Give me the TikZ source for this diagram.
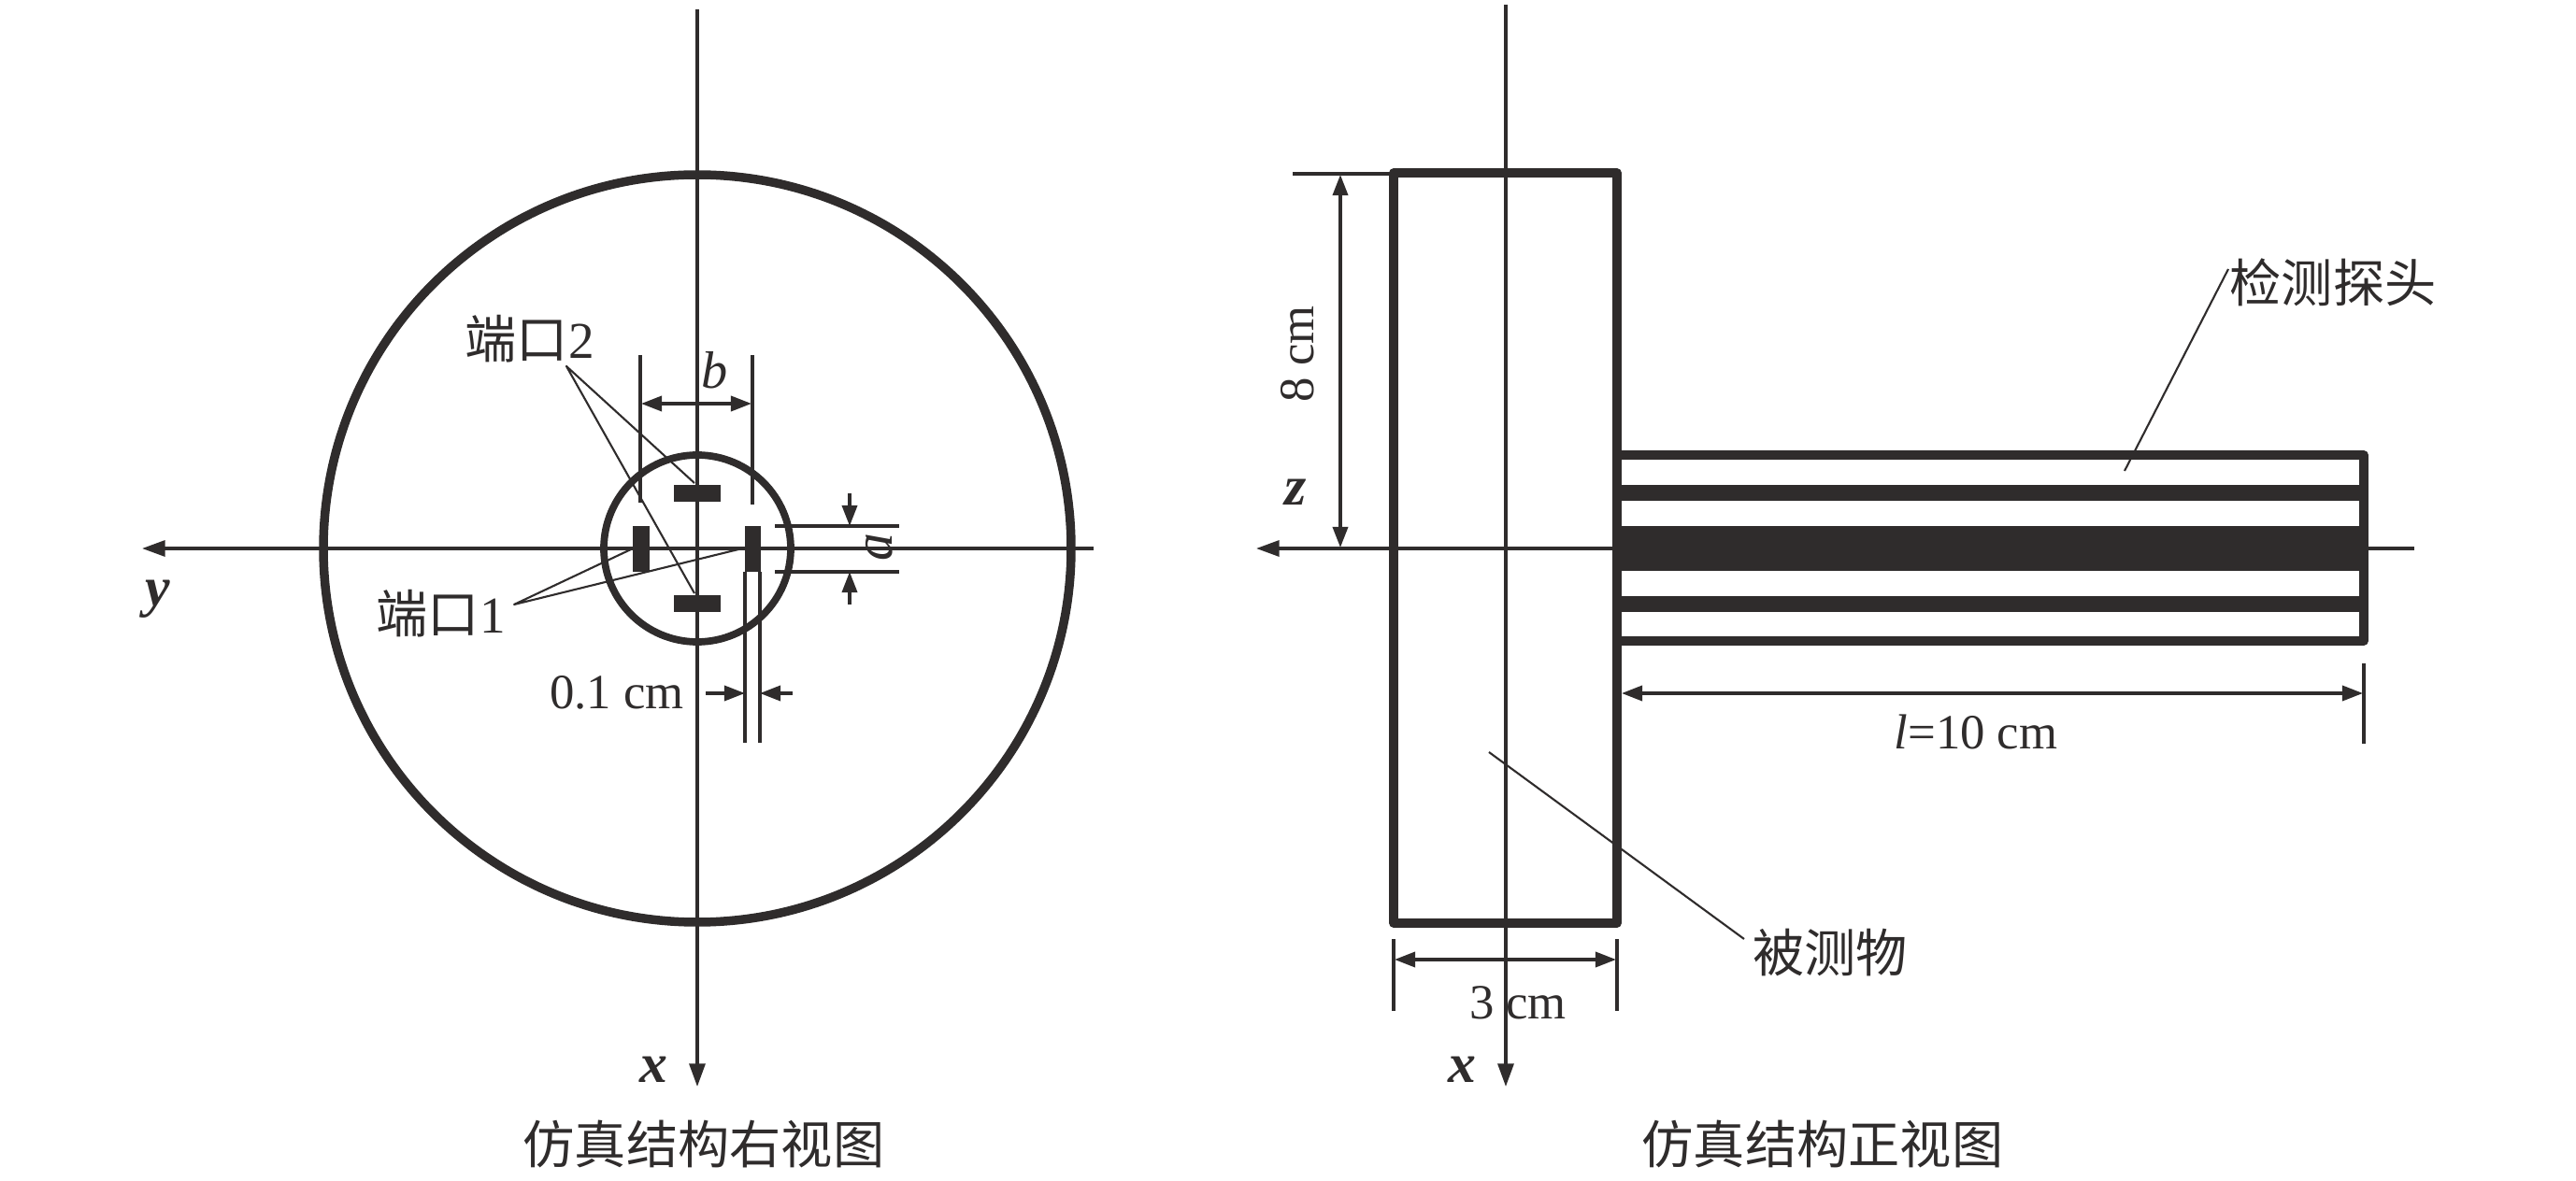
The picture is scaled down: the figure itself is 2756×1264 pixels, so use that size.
\documentclass[tikz,border=0pt]{standalone}
\usepackage{fontspec}
\setmainfont{Liberation Serif}
\newfontfamily\cjk{Noto Sans CJK SC}
\usepackage{xcolor}
\usetikzlibrary{arrows.meta,positioning}
\definecolor{ink}{HTML}{2F2C2C}

\begin{document}
\begin{tikzpicture}[x=0.01cm, y=-0.01cm, ink, line join=round,
    axisline/.style={draw=ink, line width=1pt, -{Triangle[length=7pt,width=4.8pt]}},
    thick outline/.style={draw=ink, line width=2.7pt},
    dimline/.style={draw=ink, line width=0.95pt},
    dimarrow/.style={draw=ink, line width=0.95pt, {Triangle[length=6.3pt,width=4.6pt]}-{Triangle[length=6.3pt,width=4.6pt]}},
    onearrow/.style={draw=ink, line width=0.95pt, -{Triangle[length=6.3pt,width=4.6pt]}},
    leader/.style={draw=ink, line width=0.6pt},
    txt/.style={inner sep=0pt, font=\fontsize{15}{18}\selectfont},
    cjktxt/.style={inner sep=0pt, font=\fontsize{15.7}{18}\selectfont\cjk},
    axislabel/.style={inner sep=0pt, font=\fontsize{17}{18}\selectfont\bfseries\itshape}]
    \useasboundingbox (0,0) rectangle (2756,1264);

    % right view
    \draw[thick outline] (746,587) circle (400);
    \draw[thick outline, line width=2.2pt] (746,587) circle (100);
    \fill (721,519) rectangle (771,537);
    \fill (721,637) rectangle (771,655);
    \fill (677,563) rectangle (695,612);
    \fill (797,563) rectangle (814,612);

    \coordinate (yaxisend) at (1170,587);
    \coordinate (ytip) at (152,587);
    \coordinate (xtopl) at (746,10);
    \coordinate (xtipl) at (746,1163);
    \draw[axisline] (yaxisend) -- (ytip);
    \draw[axisline] (xtopl) -- (xtipl);
    \node[axislabel] (ylabel) at (169,641) {y};
    \node[axislabel] (xlabell) at (699,1145) {x};

    % b
    \coordinate (bl1) at (685,380);
    \coordinate (bl2) at (685,538);
    \coordinate (br1) at (805,380);
    \coordinate (br2) at (805,540);
    \draw[dimline] (bl1) -- (bl2);
    \draw[dimline] (br1) -- (br2);
    \draw[dimarrow] (686,432) -- (804,432);
    \node[txt, font=\fontsize{16}{18}\selectfont\itshape] (blabel) at (765,396) {b};

    % a
    \draw[dimline] (829,563) -- (962,563);
    \draw[dimline] (829,612) -- (962,612);
    \draw[onearrow] (909,528) -- (909,563);
    \draw[onearrow] (909,647) -- (909,612);
    \node[txt, font=\fontsize{17}{18}\selectfont\itshape, rotate=90] (alabel) at (941,586) {a};

    % 0.1 cm
    \draw[dimline] (797,612) -- (797,795);
    \draw[dimline] (813,612) -- (813,795);
    \draw[onearrow] (755,742) -- (797,742);
    \draw[onearrow] (848,742) -- (813,742);
    \node[txt] (gaplabel) at (660,741) {0.1 cm};

    % ports
    \node[cjktxt, anchor=west] (port2) at (497,363) {端口\rmfamily 2};
    \node[cjktxt, anchor=west] (port1) at (402,657) {端口\rmfamily 1};
    \coordinate (port2apex) at (606,392);
    \coordinate (port1apex) at (550,647);
    \draw[leader] (743,517) -- (port2apex) -- (743,635);
    \draw[leader] (675,588) -- (port1apex) -- (790,588);

    \node[cjktxt] (capl) at (753,1224) {仿真结构右视图};

    % front view
    \draw[thick outline] (1491,185) rectangle (1730,988);
    \draw[thick outline] (1730,487) rectangle (2529,686);
    \foreach \ya/\yb in {519/536, 563/611, 638/655}
        \fill (1730,\ya) rectangle (2529,\yb);

    \coordinate (zaxisend) at (2583,587);
    \coordinate (ztip) at (1344,587);
    \coordinate (xtopr) at (1611,5);
    \coordinate (xtipr) at (1611,1163);
    \draw[axisline] (zaxisend) -- (ztip);
    \draw[axisline] (xtopr) -- (xtipr);
    \node[axislabel] (zlabel) at (1386,527) {z};
    \node[axislabel] (xlabelr) at (1564,1145) {x};

    % 8 cm
    \draw[dimline] (1383,186) -- (1491,186);
    \draw[dimarrow] (1434,187) -- (1434,586);
    \node[txt, rotate=90] (hlabel) at (1388,379) {8 cm};

    % 3 cm
    \draw[dimline] (1491,1005) -- (1491,1082);
    \draw[dimline] (1730,1005) -- (1730,1082);
    \draw[dimarrow] (1492,1027) -- (1729,1027);
    \node[txt] (wlabel) at (1624,1073) {3 cm};

    % l = 10 cm
    \draw[dimline] (2529,710) -- (2529,796);
    \draw[dimarrow] (1735,742) -- (2528,742);
    \node[txt] (llabel) at (2114,783) {\textit{l}=10 cm};

    \node[cjktxt] (probe) at (2496,302) {检测探头};
    \node[cjktxt] (object) at (1958,1020) {被测物};
    \coordinate (probeend) at (2273,504);
    \coordinate (objectend) at (1593,805);
    \draw[leader] (2384,288) -- (probeend);
    \draw[leader] (1866,1005) -- (objectend);

    \node[cjktxt] (capr) at (1950,1224) {仿真结构正视图};
\end{tikzpicture}
\end{document}
